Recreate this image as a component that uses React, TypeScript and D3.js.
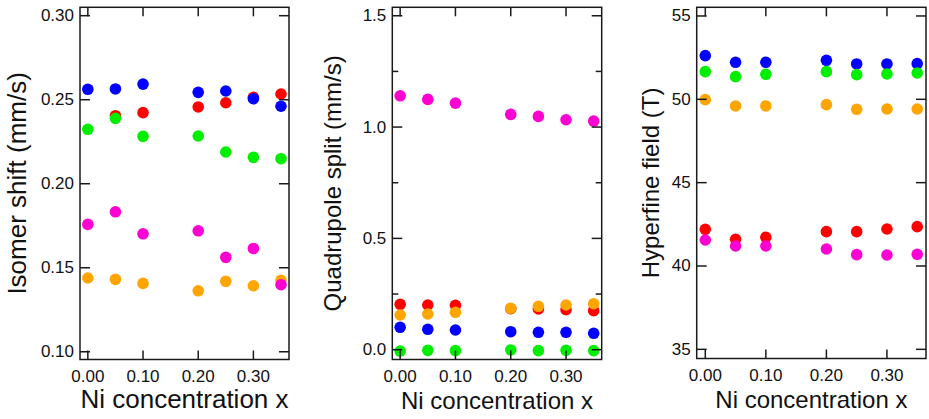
import React from "react";
import * as d3 from "d3";

// ---- Data ----
const niX = [0, 0.05, 0.1, 0.2, 0.25, 0.3, 0.35];

// Isomer shift (mm/s)
const isRed = [null, 0.2405, 0.2423, 0.2457, 0.2482, 0.2514, 0.2534];
const isBlue = [0.2562, 0.2564, 0.2593, 0.2544, 0.2552, 0.2506, 0.2461];
const isGreen = [0.2324, 0.2389, 0.2282, 0.2284, 0.2189, 0.2157, 0.2149];
const isOrange = [0.1439, 0.1431, 0.1407, 0.1363, 0.1419, 0.1393, 0.1425];
const isMagenta = [0.1758, 0.1833, 0.1702, 0.172, 0.1562, 0.1615, 0.1399];

// Quadrupole split (mm/s)
const qsRed = [0.2039, 0.2007, 0.1994, 0.184, 0.1828, 0.1796, 0.1751];
const qsBlue = [0.1006, 0.0916, 0.0885, 0.0808, 0.0781, 0.0781, 0.0736];
const qsGreen = [-0.006, -0.003, -0.004, -0.001, -0.004, -0.003, -0.004];
const qsOrange = [0.1558, 0.1603, 0.1679, 0.1859, 0.1949, 0.2007, 0.2066];
const qsMagenta = [1.1405, 1.1244, 1.1078, 1.057, 1.048, 1.0328, 1.027];

// Hyperfine field (T)
const hfRed = [42.2, 41.6, 41.72, 42.06, 42.06, 42.22, 42.36];
const hfBlue = [52.62, 52.22, 52.22, 52.34, 52.12, 52.12, 52.14];
const hfGreen = [51.66, 51.36, 51.5, 51.66, 51.48, 51.52, 51.58];
const hfOrange = [49.98, 49.6, 49.6, 49.68, 49.4, 49.42, 49.42];
const hfMagenta = [41.56, 41.2, 41.2, 41.02, 40.68, 40.66, 40.7];

const xTicks = [0, 0.1, 0.2, 0.3];
const isTicks = [0.1, 0.15, 0.2, 0.25, 0.3];
const qsTicks = [0, 0.5, 1.0, 1.5];
const qsMinorTicks = [0.25, 0.75, 1.25];
const hfTicks = [35, 40, 45, 50, 55];

const seriesColors = {
  red: "#ff0000",
  blue: "#0000ff",
  green: "#00ee00",
  orange: "#ffa500",
  magenta: "#ff00d2",
};

type Panel = {
  left: number;
  right: number;
  top: number;
  bottom: number;
  yDomain: [number, number];
  yTicks: number[];
  yMinor: number[];
  fmt: (v: number) => string;
  series: { color: string; values: (number | null)[] }[];
  yTitle: string;
  yTitleX: number;
  titleSize: number;
  xTitleY: number;
};

const panels: Panel[] = [
  {
    left: 80,
    right: 289,
    top: 7.3,
    bottom: 359.5,
    yDomain: [0.0954, 0.305],
    yTicks: isTicks,
    yMinor: [],
    fmt: d3.format(".2f"),
    series: [
      { color: seriesColors.red, values: isRed },
      { color: seriesColors.blue, values: isBlue },
      { color: seriesColors.green, values: isGreen },
      { color: seriesColors.orange, values: isOrange },
      { color: seriesColors.magenta, values: isMagenta },
    ],
    yTitle: "Isomer shift (mm/s)",
    yTitleX: 26,
    titleSize: 26,
    xTitleY: 408,
  },
  {
    left: 392.3,
    right: 601.7,
    top: 7.3,
    bottom: 359.5,
    yDomain: [-0.044, 1.538],
    yTicks: qsTicks,
    yMinor: qsMinorTicks,
    fmt: d3.format(".1f"),
    series: [
      { color: seriesColors.red, values: qsRed },
      { color: seriesColors.blue, values: qsBlue },
      { color: seriesColors.green, values: qsGreen },
      { color: seriesColors.orange, values: qsOrange },
      { color: seriesColors.magenta, values: qsMagenta },
    ],
    yTitle: "Quadrupole split (mm/s)",
    yTitleX: 341,
    titleSize: 24,
    xTitleY: 409,
  },
  {
    left: 696.7,
    right: 926,
    top: 7.3,
    bottom: 358.5,
    yDomain: [34.45, 55.52],
    yTicks: hfTicks,
    yMinor: [],
    fmt: d3.format("d"),
    series: [
      { color: seriesColors.red, values: hfRed },
      { color: seriesColors.blue, values: hfBlue },
      { color: seriesColors.green, values: hfGreen },
      { color: seriesColors.orange, values: hfOrange },
      { color: seriesColors.magenta, values: hfMagenta },
    ],
    yTitle: "Hyperfine field (T)",
    yTitleX: 659,
    titleSize: 24,
    xTitleY: 407.5,
  },
];

const FONT = "'Liberation Sans', Arial, Helvetica, sans-serif";
const AXIS = "#1a1a1a";

function PanelView({ p }: { p: Panel }) {
  const x = d3.scaleLinear().domain([-0.0142, 0.3645]).range([p.left, p.right]);
  const y = d3.scaleLinear().domain(p.yDomain).range([p.bottom, p.top]);
  const cy = (p.top + p.bottom) / 2;
  const cx = (p.left + p.right) / 2;
  const major = 10;
  const minor = 6;
  const xt = 9;
  return (
    <g>
      {p.series.map((s, si) => (
        <g key={si}>
          {s.values.map((v, i) =>
            v == null ? null : (
              <circle key={i} cx={x(niX[i])} cy={y(v)} r={5.8} fill={s.color} />
            )
          )}
        </g>
      ))}
      <rect
        x={p.left}
        y={p.top}
        width={p.right - p.left}
        height={p.bottom - p.top}
        fill="none"
        stroke={AXIS}
        strokeWidth={1.5}
      />
      {p.yTicks.map((t) => (
        <g key={"y" + t}>
          <line x1={p.left} x2={p.left + major} y1={y(t)} y2={y(t)} stroke={AXIS} strokeWidth={1.5} />
          <line x1={p.right} x2={p.right - major} y1={y(t)} y2={y(t)} stroke={AXIS} strokeWidth={1.5} />
          <text
            x={p.left - 6}
            y={y(t)}
            textAnchor="end"
            dominantBaseline="central"
            fontFamily={FONT}
            fontSize={17}
            fill="#111"
          >
            {p.fmt(t)}
          </text>
        </g>
      ))}
      {p.yMinor.map((t) => (
        <g key={"m" + t}>
          <line x1={p.left} x2={p.left + minor} y1={y(t)} y2={y(t)} stroke={AXIS} strokeWidth={1.5} />
          <line x1={p.right} x2={p.right - minor} y1={y(t)} y2={y(t)} stroke={AXIS} strokeWidth={1.5} />
        </g>
      ))}
      {xTicks.map((t) => (
        <g key={"x" + t}>
          <line x1={x(t)} x2={x(t)} y1={p.bottom} y2={p.bottom - xt} stroke={AXIS} strokeWidth={1.5} />
          <line x1={x(t)} x2={x(t)} y1={p.top} y2={p.top + xt} stroke={AXIS} strokeWidth={1.5} />
          <text
            x={x(t)}
            y={p.bottom + 22}
            textAnchor="middle"
            fontFamily={FONT}
            fontSize={17}
            fill="#111"
          >
            {d3.format(".2f")(t)}
          </text>
        </g>
      ))}
      <text
        x={cx}
        y={p.xTitleY}
        textAnchor="middle"
        fontFamily={FONT}
        fontSize={p.titleSize}
        fill="#111"
      >
        Ni concentration x
      </text>
      <text
        transform={`translate(${p.yTitleX},${cy}) rotate(-90)`}
        textAnchor="middle"
        fontFamily={FONT}
        fontSize={p.titleSize}
        fill="#111"
      >
        {p.yTitle}
      </text>
    </g>
  );
}

export default function App() {
  return (
    <svg
      width={929}
      height={419}
      style={{ position: "absolute", left: 0, top: 0, background: "#fff" }}
    >
      <rect width={929} height={419} fill="#fff" />
      {panels.map((p, i) => (
        <PanelView key={i} p={p} />
      ))}
    </svg>
  );
}
